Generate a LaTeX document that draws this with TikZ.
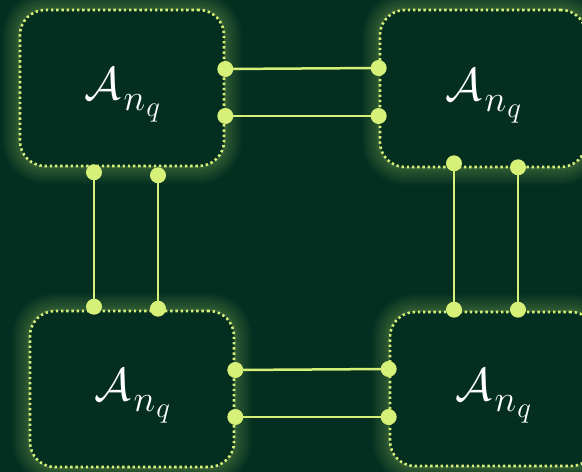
\documentclass[tikz,border=0pt]{standalone}
\usepackage{fix-cm}
\usepackage{amsmath}
\definecolor{bgc}{RGB}{3,46,32}
\definecolor{lime}{RGB}{214,240,120}
\definecolor{halo}{RGB}{170,215,110}
% block label: script A with a large, deeply set subscript n_q
\newcommand\blocklabel{%
  \fontsize{46}{50}\selectfont$\mathcal{A}$\kern3pt%
  \raisebox{-11pt}[0pt][8pt]{\fontsize{37}{40}\selectfont$n$\kern1pt%
    \raisebox{-6pt}{\fontsize{29}{32}\selectfont$q$}}}
\tikzset{
  glowring/.style={preaction={draw=halo, solid, line width=#1, opacity=0.035}},
  block/.style={
    rectangle, rounded corners=25pt,
    minimum width=204pt, minimum height=156pt,
    glowring=36pt, glowring=32pt, glowring=28pt, glowring=24pt, glowring=20pt,
    glowring=16pt, glowring=12pt, glowring=9pt, glowring=6pt, glowring=4pt,
    fill=bgc, draw=lime, line width=2.6pt, dash pattern=on 2.4pt off 2.8pt,
    text=white
  },
  link/.style={draw=lime, line width=2.5pt},
  pin/.style={fill=lime}
}
\begin{document}
\begin{tikzpicture}[x=1pt,y=1pt]
  \fill[bgc] (0,0) rectangle (582,472);
  \useasboundingbox (0,0) rectangle (582,472);

  % four blocks
  \node[block] (a) at (122,384) {\blocklabel};
  \node[block, minimum width=206pt, minimum height=157pt] (b) at (483,383.5) {\blocklabel};
  \node[block] (c) at (132,83) {\blocklabel};
  \node[block, minimum width=206pt, minimum height=154pt] (d) at (493,83) {\blocklabel};

  % link end points on the block borders
  \coordinate (ab1) at ([yshift=19pt]a.east);
  \coordinate (ab2) at ([yshift=-28pt]a.east);
  \coordinate (ba1) at ([yshift=20.5pt]b.west);
  \coordinate (ba2) at ([yshift=-27.5pt]b.west);

  \coordinate (cd1) at ([yshift=19pt]c.east);
  \coordinate (cd2) at ([yshift=-28pt]c.east);
  \coordinate (dc1) at ([yshift=20pt]d.west);
  \coordinate (dc2) at ([yshift=-28pt]d.west);

  \coordinate (ac1) at ([xshift=-28pt,yshift=-5pt]a.south);
  \coordinate (ac2) at ([xshift=36pt,yshift=-8pt]a.south);
  \coordinate (ca1) at ([xshift=-38pt,yshift=3pt]c.north);
  \coordinate (ca2) at ([xshift=26pt,yshift=1pt]c.north);

  \coordinate (bd1) at ([xshift=-29pt,yshift=5pt]b.south);
  \coordinate (bd2) at ([xshift=35pt,yshift=1pt]b.south);
  \coordinate (db1) at ([xshift=-39pt,yshift=1pt]d.north);
  \coordinate (db2) at ([xshift=25pt,yshift=1pt]d.north);

  % links
  \foreach \p/\q in {ab1/ba1, ab2/ba2, cd1/dc1, cd2/dc2, ac1/ca1, ac2/ca2, bd1/db1, bd2/db2}{
    \draw[link] (\p) -- (\q);
    \fill[pin] (\p) circle (8pt);
    \fill[pin] (\q) circle (8pt);
  }
\end{tikzpicture}
\end{document}
